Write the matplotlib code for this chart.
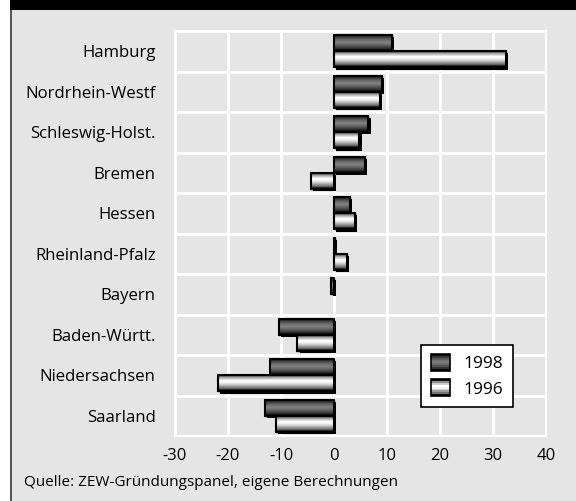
import numpy as np
import matplotlib
matplotlib.use("Agg")
import matplotlib.pyplot as plt
from matplotlib.patches import Rectangle
from matplotlib.legend_handler import HandlerBase
import matplotlib.patheffects as pe

plt.rcParams['font.family'] = ['Open Sans', 'DejaVu Sans']

laender = ['Hamburg', 'Nordrhein-Westf', 'Schleswig-Holst.', 'Bremen', 'Hessen',
           'Rheinland-Pfalz', 'Bayern', 'Baden-Württ.', 'Niedersachsen', 'Saarland']
werte_1998 = [11.0, 9.0, 6.5, 5.8, 3.0, 0.2, -0.5, -10.4, -12.0, -13.0]
werte_1996 = [32.5, 8.7, 4.8, -4.3, 4.0, 2.5, 0.0, -6.9, -21.9, -11.0]
xticks = [-30, -20, -10, 0, 10, 20, 30, 40]
quelle = 'Quelle: ZEW-Gründungspanel, eigene Berechnungen'

# grey stripes from top to bottom of a bar
grad_dunkel = [0.03, 0.22, 0.36, 0.45, 0.50, 0.42, 0.32, 0.20, 0.03]
grad_hell = [0.05, 0.55, 0.80, 1.00, 0.95, 0.82, 0.62, 0.45, 0.05]

bg = '#e5e5e5'

fig = plt.figure(figsize=(5.76, 5.01), dpi=100)
fig.patch.set_facecolor('white')
W, H = 576, 501
fig.add_artist(Rectangle((10 / W, 0), 1 - 10 / W, 1, transform=fig.transFigure,
                         facecolor=bg, edgecolor='none', zorder=0))
fig.add_artist(Rectangle((10 / W, 1 - 10 / H), 1 - 10 / W, 10 / H, transform=fig.transFigure,
                         facecolor='black', edgecolor='none', zorder=1))
fig.add_artist(Rectangle((10 / W, 0), 1.5 / W, 1 - 10 / H, transform=fig.transFigure,
                         facecolor='#555555', edgecolor='none', zorder=1))

ax = fig.add_axes([175 / W, 1 - 436 / H, 371 / W, 405 / H])
ax.set_facecolor(bg)

y = np.arange(len(laender))
h = 0.4


def gradient_bars(werte, offs, stops):
    img = np.array(stops).reshape(-1, 1)
    bars = ax.barh(y + offs, werte, height=h, color='black', edgecolor='black', zorder=2,
                   path_effects=[pe.SimplePatchShadow(offset=(1.5, -1.5), shadow_rgbFace='black', alpha=1),
                                 pe.Normal()])
    rahmen = ax.barh(y + offs, werte, height=h, fill=False, edgecolor='black', linewidth=1.5, zorder=4)
    for b, r in zip(bars, rahmen):
        x0, w = b.get_x(), b.get_width()
        if w == 0:
            # nothing to show for a zero value
            b.set_visible(False)
            r.set_visible(False)
            continue
        y0, bh = b.get_y(), b.get_height()
        ax.imshow(img, cmap='gray', vmin=0, vmax=1, aspect='auto', interpolation='bilinear',
                  extent=(min(x0, x0 + w), max(x0, x0 + w), y0 + bh, y0), zorder=3)


gradient_bars(werte_1998, -0.2, grad_dunkel)
gradient_bars(werte_1996, 0.2, grad_hell)

ax.set_xlim(-30, 40)
ax.set_ylim(len(laender) - 0.5, -0.5)
ax.set_xticks(xticks)
ax.set_xticklabels([str(t) for t in xticks], fontsize=12)
ax.set_yticks(y)
ax.set_yticklabels(laender, fontsize=12.1)
ax.set_yticks(np.arange(len(laender) + 1) - 0.5, minor=True)
ax.tick_params(axis='both', length=0, which='both')
ax.tick_params(axis='y', pad=14)
ax.tick_params(axis='x', pad=9)
ax.grid(True, axis='x', color='white', linewidth=2, zorder=1)
ax.grid(True, axis='y', which='minor', color='white', linewidth=2, zorder=1)
ax.set_axisbelow(True)
for s in ax.spines.values():
    s.set_color('white')
    s.set_linewidth(1.5)


class GradientHandler(HandlerBase):
    def __init__(self, stops):
        super().__init__()
        self.stops = stops

    def create_artists(self, legend, orig_handle, xdescent, ydescent, width, height, fontsize, trans):
        n = len(self.stops)
        arts = []
        sh = height / n
        for i, v in enumerate(self.stops):
            arts.append(Rectangle((-xdescent, -ydescent + height - (i + 1) * sh), width, sh,
                                  facecolor=str(v), edgecolor='none', transform=trans))
        arts.append(Rectangle((-xdescent, -ydescent), width, height, fill=False,
                              edgecolor='black', linewidth=1.2, transform=trans))
        return arts


h98 = Rectangle((0, 0), 1, 1)
h96 = Rectangle((0, 0), 1, 1)
leg = ax.legend([h98, h96], ['1998', '1996'],
                handler_map={h98: GradientHandler(grad_dunkel), h96: GradientHandler(grad_hell)},
                loc='lower right', bbox_to_anchor=(0.935, 0.05), fontsize=12.5, frameon=True,
                fancybox=False, edgecolor='black', framealpha=1, handlelength=1.1,
                handleheight=1.1, labelspacing=0.4, borderpad=0.55, handletextpad=0.8)
leg.get_frame().set_linewidth(1.2)
leg.set_zorder(10)

fig.text(24 / W, 1 - 483 / H, quelle, fontsize=11, va='center', ha='left')

fig.savefig('out.png', dpi=100)
